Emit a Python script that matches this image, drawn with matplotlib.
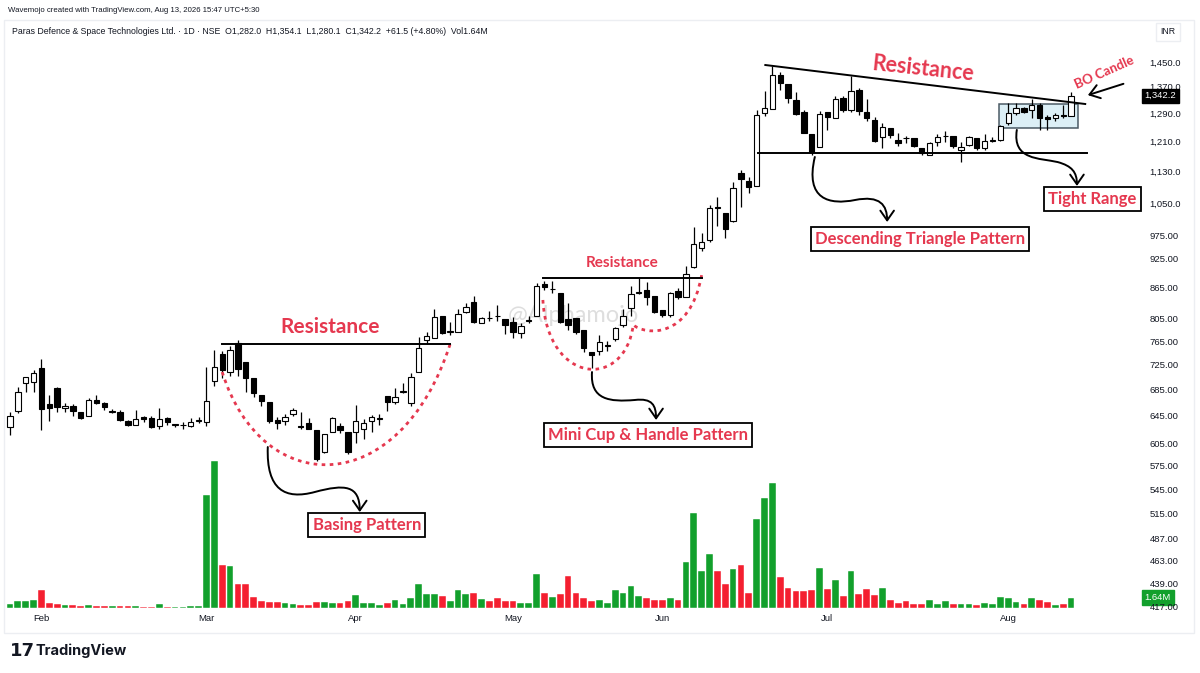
import numpy as np
import matplotlib.pyplot as plt
from matplotlib.path import Path
from matplotlib.patches import FancyArrowPatch, PathPatch, Rectangle
from matplotlib.ticker import NullLocator, FuncFormatter
from matplotlib.transforms import blended_transform_factory

# Datos diarios (precio en INR, volumen en millones)
apertura = [628, 652, 695, 697, 719, 663, 687, 656, 659, 650,
            645, 668, 664, 651, 650, 637, 632, 643, 641, 630,
            641, 632, 631, 630, 637, 635, 699, 743, 713, 761,
            729, 703, 676, 665, 638, 637, 648, 629.5, 634, 624,
            593, 621, 630, 621, 621, 625, 637, 640, 675, 665,
            681, 664, 713, 767, 770, 811, 782, 781, 818, 837,
            798, 807, 811, 804, 799, 779, 802, 810, 872, 862,
            855, 804, 806, 785, 746, 748, 757, 768, 793, 825,
            855, 861, 849, 822, 813, 859, 846, 906, 947, 964,
            1041, 1025, 1007, 1125, 1104, 1091, 1291, 1303, 1407, 1379,
            1328, 1293, 1229, 1193, 1293, 1276, 1336, 1298, 1360, 1293,
            1271, 1221, 1247, 1212, 1219, 1218, 1190, 1172, 1207, 1223,
            1225, 1185, 1199, 1218, 1190, 1211, 1212, 1260, 1290, 1304,
            1298, 1313, 1278, 1276, 1284, 1282]
maximo = [650, 689, 705, 716, 735, 676, 688, 664, 662, 651,
          671, 677, 665, 655, 653, 638, 653, 645, 645, 656,
          643, 633, 636, 641, 643, 721, 750, 748, 756, 767,
          729, 703, 676, 665, 643, 647, 656, 650, 641, 624,
          618, 643, 634, 621, 661, 640, 646, 647, 675, 687,
          695, 711, 772, 781, 823, 811, 800, 823, 835, 848,
          808, 819, 832, 805, 808, 797, 810, 874, 878, 878,
          855, 834, 806, 785, 746, 776, 766, 791, 823, 869,
          884, 876, 849, 822, 857, 865, 908, 993, 980, 1045,
          1064, 1025, 1101, 1132, 1114, 1299, 1356, 1437, 1417, 1379,
          1354, 1299, 1229, 1295, 1293, 1340, 1342, 1405, 1365, 1332,
          1278, 1260, 1247, 1232, 1225, 1218, 1190, 1207, 1229, 1237,
          1225, 1207, 1224, 1218, 1229, 1221, 1254, 1320, 1320, 1308,
          1333, 1320, 1283, 1290, 1313, 1354.1]
minimo = [617, 649, 681, 681, 624, 637, 650, 650, 644, 640,
          644, 662, 654, 649, 637, 630, 631, 636, 627, 626,
          632, 628, 625, 628, 634, 630, 691, 703, 707, 707,
          681, 673, 660, 634, 625, 632, 645, 626, 625, 581,
          592, 621, 620, 591, 606, 612, 621, 632, 652, 662,
          679, 660, 713, 760, 770, 777, 776, 781, 816, 797,
          797, 802, 801, 777, 770, 770, 797, 810, 860, 855,
          797, 784, 777, 746, 719, 742, 748, 766, 790, 810,
          853, 832, 816, 808, 808, 842, 846, 904, 940, 960,
          997, 968, 1005, 1040, 1074, 1091, 1281, 1303, 1359, 1320,
          1283, 1232, 1172, 1193, 1240, 1274, 1293, 1293, 1283, 1268,
          1207, 1190, 1218, 1197, 1205, 1193, 1172, 1172, 1197, 1207,
          1190, 1153, 1196, 1185, 1185, 1207, 1210, 1255, 1283, 1290,
          1276, 1240, 1240, 1268, 1276, 1280.1]
cierre = [644, 681, 704, 711, 655, 657, 658, 660, 652, 641,
          668, 664, 658, 652, 638, 631, 640, 640, 628, 640,
          636, 632.5, 631.5, 636, 638, 667, 721, 716, 749, 717,
          703, 679, 667, 637, 634, 643, 653, 629, 625.5, 584,
          618, 641, 624, 593, 637, 634, 643, 641, 665, 673,
          682, 705, 753, 775, 809, 779, 783, 815, 827, 799,
          806, 806, 810, 793, 781, 792, 803, 868, 866, 863,
          799, 793, 781, 753, 742, 763, 758, 789, 810, 853,
          856, 846, 818, 813, 854, 846, 892, 956, 960, 1038,
          1039, 989, 1087, 1110, 1089, 1283, 1306, 1407, 1381, 1335,
          1287, 1232, 1180, 1288, 1278, 1333, 1300, 1358, 1295, 1276,
          1210, 1249, 1227, 1205, 1217, 1196, 1177, 1204, 1221, 1224,
          1196, 1194, 1221, 1190, 1210, 1212, 1252, 1290, 1304, 1293,
          1313, 1276, 1273, 1283, 1280, 1342.2]
volumen = [0.64, 1.06, 1.06, 1.27, 2.92, 0.85, 0.58, 0.42, 0.42, 0.32,
           0.48, 0.37, 0.27, 0.27, 0.27, 0.27, 0.32, 0.21, 0.21, 0.64,
           0.21, 0.21, 0.21, 0.32, 0.32, 17.9, 23.3, 6.9, 6.7, 3.76,
           3.76, 1.75, 1.17, 0.95, 0.95, 0.74, 0.64, 0.53, 0.53, 0.95,
           0.95, 0.8, 0.8, 1.11, 2.12, 0.8, 0.85, 0.53, 0.8, 1.22,
           0.58, 1.59, 3.87, 2.23, 2.23, 1.96, 1.06, 2.86, 2.23, 2.33,
           1.38, 1.11, 1.54, 1.17, 1.17, 0.85, 0.85, 5.4, 2.33, 1.75,
           2.28, 5.14, 2.33, 1.64, 1.11, 1.22, 0.8, 2.81, 2.44, 3.55,
           1.91, 1.54, 1.22, 1.22, 1.64, 1.22, 7.31, 15.0, 5.94, 8.53,
           5.88, 3.76, 6.15, 6.84, 2.44, 14.2, 17.4, 19.8, 4.93, 3.23,
           2.76, 2.65, 2.86, 6.41, 3.02, 4.45, 1.96, 5.88, 2.28, 3.02,
           2.12, 3.23, 1.22, 0.85, 1.06, 0.64, 0.64, 1.33, 0.69, 1.06,
           0.64, 0.69, 0.64, 0.42, 0.85, 0.64, 1.75, 1.59, 0.95, 0.64,
           1.54, 1.27, 0.95, 0.53, 0.58, 1.64]

meses = ['Feb', 'Mar', 'Apr', 'May', 'Jun', 'Jul', 'Aug']
inicio_mes = [4, 25, 44, 64, 83, 104, 127]
precios_eje = [1450, 1370, 1290, 1210, 1130, 1050, 975, 925, 865, 805, 765,
               725, 685, 645, 605, 575, 545, 515, 487, 463, 439, 417]

ROJO = '#e5384f'
VERDE_VOL = '#12a02c'
ROJO_VOL = '#f41f30'
GRIS = '#131722'


def curva(puntos):
    codigos = [Path.MOVETO] + [Path.CURVE4] * (len(puntos) - 1)
    return Path(puntos, codigos)


def flecha(ax, puntos):
    ax.add_patch(FancyArrowPatch(path=curva(puntos), arrowstyle='->,head_length=0.5,head_width=0.35',
                                 mutation_scale=14, lw=1.4, color='black', zorder=6))


def caja(ax, x, y, texto):
    ax.text(x, y, texto, ha='center', va='center', color=ROJO, fontsize=12,
            family='Lato', fontweight='bold', zorder=7,
            bbox=dict(boxstyle='square,pad=0.25', fc='white', ec='black', lw=1.3))


def generar_grafico():
    o, h, l, c = map(np.array, (apertura, maximo, minimo, cierre))
    x = np.arange(len(c))
    sube = c >= o

    fig = plt.figure(figsize=(12, 6.73), dpi=100)
    rect = [0, (673 - 610) / 673, 1140 / 1200, 588 / 673]

    # Volumen por debajo
    ax_v = fig.add_axes(rect)
    ax_v.bar(x, volumen, width=0.86, color=np.where(sube, VERDE_VOL, ROJO_VOL),
             edgecolor='white', linewidth=0.3)
    ax_v.set_ylim(-0.32, 93.0)
    ax_v.axis('off')

    ax = fig.add_axes(rect, sharex=ax_v)
    ax.patch.set_visible(False)
    ax.set_yscale('log')
    ax.set_ylim(413.3, 1589.1)
    ax.set_xlim(-1.27, 143.77)

    # Velas
    ax.vlines(x, l, h, color='black', lw=0.9, zorder=2)
    ax.bar(x, np.abs(c - o), bottom=np.minimum(o, c), width=0.68,
           color=np.where(sube, 'white', 'black'), edgecolor='black', linewidth=0.8, zorder=3)

    # Ejes
    ax.yaxis.tick_right()
    ax.set_yticks(precios_eje)
    ax.yaxis.set_minor_locator(NullLocator())
    ax.yaxis.set_major_formatter(FuncFormatter(lambda v, _: f'{v:,.1f}' if v >= 1000 else f'{v:.2f}'))
    ax.set_xticks(inicio_mes)
    ax.set_xticklabels(meses)
    ax.tick_params(axis='both', length=0, labelsize=6.8, colors=GRIS)
    ax.tick_params(axis='y', pad=7)
    ax.tick_params(axis='x', pad=3)
    for lbl in ax.get_yticklabels() + ax.get_xticklabels():
        lbl.set_family('Liberation Sans')
    for s in ax.spines.values():
        s.set_visible(False)

    # Etiquetas del último valor
    tr = blended_transform_factory(ax.transAxes, ax.transData)
    ax.text(1.004, c[-1], f'{c[-1]:,.1f}', transform=tr, va='center', ha='left', color='white',
            fontsize=6.8, family='Liberation Sans', zorder=8,
            bbox=dict(boxstyle='square,pad=0.25', fc='black', ec='black'))
    trv = blended_transform_factory(ax_v.transAxes, ax_v.transData)
    ax_v.text(1.004, volumen[-1], f'{volumen[-1]:.2f}M', transform=trv, va='center', ha='left',
              color='white', fontsize=6.8, family='Liberation Sans', zorder=8,
              bbox=dict(boxstyle='square,pad=0.3', fc=VERDE_VOL, ec=VERDE_VOL), clip_on=False)

    # Marca de agua
    ax.text(71.7, 812, '@Alphamojo', ha='center', va='center', fontsize=17, color='#c8c8c8',
            alpha=0.6, zorder=1, family='Lato')

    # Patrón de base
    ax.plot([27, 56], [760, 760], color='black', lw=1.4, zorder=5)
    ax.text(40.7, 790, 'Resistance', color=ROJO, fontsize=15, family='Lato', fontweight='bold',
            ha='center', va='center', zorder=7)
    ax.add_patch(PathPatch(curva([(27.0, 712.8), (32.1, 531.7), (49.6, 531.7), (56.0, 760)]),
                           fill=False, ec=ROJO, lw=2, ls=(0, (1.3, 1.6)), zorder=4))
    flecha(ax, [(32.8, 600.3), (32.6, 544), (35.0, 531.7), (38.8, 541.6),
                (42.6, 551.6), (44.5, 550.3), (44.5, 517.2)])
    caja(ax, 45.4, 502.2, 'Basing Pattern')

    # Mini taza con asa
    ax.plot([67.8, 88.0], [884, 884], color='black', lw=1.4, zorder=5)
    ax.text(77.9, 915, 'Resistance', color=ROJO, fontsize=11, family='Lato', fontweight='bold',
            ha='center', va='center', zorder=7)
    ax.add_patch(PathPatch(curva([(67.8, 840.7), (68.4, 692), (78.2, 684), (79.3, 794),
                                  (80.8, 776), (86.5, 767), (88.0, 890)]),
                           fill=False, ec=ROJO, lw=2, ls=(0, (1.3, 1.6)), zorder=4))
    flecha(ax, [(74.05, 712.8), (73.8, 668.6), (76.3, 665.5), (79.5, 668.6),
                (81.7, 671.7), (82.2, 660.9), (82.2, 638.6)])
    caja(ax, 81.2, 617, 'Mini Cup & Handle Pattern')

    # Triángulo descendente
    ax.plot([96.1, 136.8], [1440, 1317], color='black', lw=1.4, zorder=5)
    ax.plot([95.2, 137.0], [1177, 1177], color='black', lw=1.4, zorder=5)
    ax.text(116.2, 1428, 'Resistance', color=ROJO, fontsize=15.5, family='Lato', fontweight='bold',
            ha='center', va='center', rotation=-6, zorder=7)
    flecha(ax, [(102.4, 1166.5), (101.1, 1057), (104.3, 1045), (107.5, 1057),
                (110.7, 1069), (111.6, 1045), (111.6, 1005)])
    caja(ax, 115.8, 966.7, 'Descending Triangle Pattern')

    # Rango estrecho y vela de ruptura
    ax.add_patch(Rectangle((125.8, 1246.6), 10.1, 1317 - 1246.6, fc='#d9eef5', ec='#3a4a55',
                           lw=1.1, alpha=0.9, zorder=1.5))
    flecha(ax, [(128.1, 1241), (127.5, 1158), (131.0, 1163.8), (133.3, 1153),
                (135.1, 1142.7), (135.75, 1127), (135.75, 1091.5)])
    caja(ax, 137.7, 1059.5, 'Tight Range')
    ax.text(139.2, 1417, 'BO Candle', color=ROJO, fontsize=9.5, family='Lato', fontweight='bold',
            ha='center', va='center', rotation=24, zorder=7)
    ax.add_patch(FancyArrowPatch((142.0, 1382), (136.8, 1341.4), arrowstyle='->,head_length=0.5,head_width=0.35',
                                 mutation_scale=14, lw=1.4, color='black', zorder=6))

    # Cabecera y marco
    fig.text(8 / 1200, 1 - 10 / 673, 'Wavemojo created with TradingView.com, Aug 13, 2026 15:47 UTC+5:30',
             fontsize=5.6, family=['Liberation Sans Narrow', 'Liberation Sans'], color=GRIS, va='center')
    fig.text(12 / 1200, 1 - 31 / 673,
             'Paras Defence & Space Technologies Ltd. · 1D · NSE  O1,282.0  H1,354.1  L1,280.1  '
             'C1,342.2  +61.5 (+4.80%)  Vol1.64M',
             fontsize=6.3, family=['Liberation Sans Narrow', 'Liberation Sans'], color=GRIS, va='center')
    fig.text(1160 / 1200, 1 - 32 / 673, 'INR', fontsize=6.3, family='Liberation Sans', color=GRIS,
             va='center', bbox=dict(boxstyle='square,pad=0.5', fc='white', ec='#eceef2'))
    fig.patches.append(Rectangle((4 / 1200, 1 - 633 / 673), 1190 / 1200, 613 / 673, fill=False,
                                 ec='#eceef2', lw=1, transform=fig.transFigure))
    fig.text(10 / 1200, 1 - 651 / 673, '17', fontsize=13, fontweight='heavy', color=GRIS,
             va='center', family='DejaVu Sans')
    fig.text(35 / 1200, 1 - 651 / 673, 'TradingView', fontsize=10.5, fontweight='bold', color=GRIS,
             va='center', family='Inter')

    fig.savefig('out.png', dpi=100, facecolor='white')


if __name__ == "__main__":
    generar_grafico()
